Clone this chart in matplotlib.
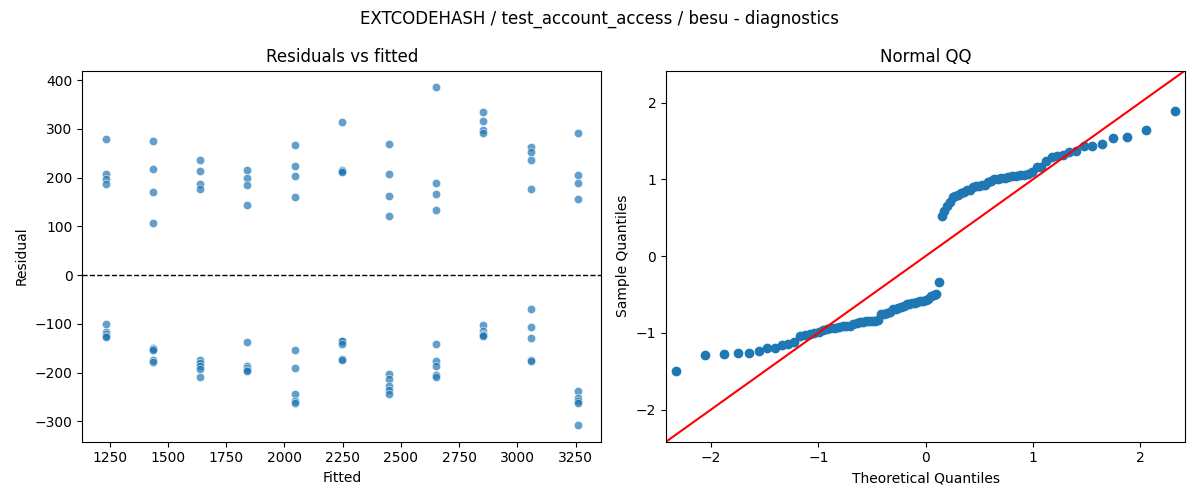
import matplotlib
matplotlib.use("Agg")
import matplotlib.pyplot as plt
import numpy as np
from statistics import NormalDist

fitted_levels = [1233, 1436, 1638, 1841, 2044, 2246, 2449, 2652, 2854, 3057, 3259]

residuals_by_level = [
    [280, 207, 198, 186, -101, -117, -120, -124, -127],
    [276, 218, 171, 106, -150, -151, -154, -174, -178],
    [237, 214, 186, 177, -174, -181, -186, -193, -208],
    [215, 200, 185, 144, -138, -186, -190, -194, -196],
    [267, 224, 204, 160, -154, -191, -244, -259, -262],
    [314, 216, 213, 211, -134, -136, -141, -171, -173],
    [270, 208, 163, 121, -203, -212, -228, -235, -244],
    [385, 189, 167, 134, -141, -176, -186, -205, -209],
    [335, 317, 298, 292, -103, -115, -120, -122, -124],
    [263, 253, 237, 176, -70, -107, -128, -174, -176],
    [292, 206, 189, 156, -237, -252, -258, -263, -307],
]

title = "EXTCODEHASH / test_account_access / besu - diagnostics"

fitted = np.concatenate([[f] * len(r) for f, r in zip(fitted_levels, residuals_by_level)])
resid = np.concatenate([np.array(r, dtype=float) for r in residuals_by_level])

# QQ computation
n = len(resid)
probs = np.arange(1, n + 1) / (n + 1)
nd = NormalDist()
theo = np.array([nd.inv_cdf(p) for p in probs])
sample = np.sort((resid - resid.mean()) / resid.std())

fig, (ax1, ax2) = plt.subplots(1, 2, figsize=(12, 5), dpi=100)

ax1.scatter(fitted, resid, s=36, color="#1f77b4", alpha=0.7, edgecolor="white", linewidth=0.48)
ax1.axhline(0, color="black", linestyle="--", linewidth=1)
ax1.set_title("Residuals vs fitted")
ax1.set_xlabel("Fitted")
ax1.set_ylabel("Residual")

ax2.plot(theo, sample, marker="o", linestyle="none", markerfacecolor="#1f77b4", markeredgecolor="#1f77b4")
lim = 2.42
ax2.plot([-lim, lim], [-lim, lim], color="red")
ax2.set_xlim(-lim, lim)
ax2.set_ylim(-lim, lim)
ax2.set_title("Normal QQ")
ax2.set_xlabel("Theoretical Quantiles")
ax2.set_ylabel("Sample Quantiles")

fig.suptitle(title)
fig.tight_layout()
fig.savefig("out.png")
